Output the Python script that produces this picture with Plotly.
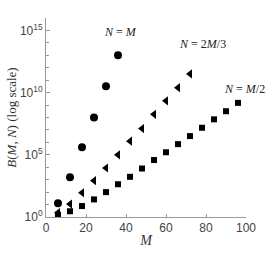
import plotly.graph_objects as go

# Data
m_eq = [6, 12, 18, 24, 30, 36]
b_eq = [1.26e1, 1.6e3, 4.0e5, 1.0e8, 3.2e10, 1.0e13]

m_23 = [6, 12, 18, 24, 30, 36, 42, 48, 54, 60, 66, 72]
b_23 = [2.2, 1.1e1, 8.9e1, 8.3e2, 8.7e3, 1.0e5, 1.26e6, 1.3e7, 1.8e8, 2.2e9, 2.5e10, 3.2e11]

m_12 = [6, 12, 18, 24, 30, 36, 42, 48, 54, 60, 66, 72, 78, 84, 90, 96]
b_12 = [1.5, 2.9, 7.6, 2.6e1, 1.0e2, 4.3e2, 1.7e3, 7.9e3, 3.8e4, 1.6e5, 7.2e5, 3.2e6,
        1.5e7, 7.1e7, 3.2e8, 1.5e9]

x_ticks = [0, 20, 40, 60, 80, 100]
y_minor_exps = list(range(0, 17))
y_label_exps = [0, 5, 10, 15]

serif = "Liberation Serif"
sans = "Liberation Sans"

fig = go.Figure()
fig.add_trace(go.Scatter(x=m_12, y=b_12, mode="markers", cliponaxis=False,
                         marker=dict(symbol="square", size=6, color="black")))
fig.add_trace(go.Scatter(x=m_23, y=b_23, mode="markers", cliponaxis=False,
                         marker=dict(symbol="triangle-left", size=8, color="black")))
fig.add_trace(go.Scatter(x=m_eq, y=b_eq, mode="markers", cliponaxis=False,
                         marker=dict(symbol="circle", size=8, color="black")))

tickvals = [10 ** k for k in y_label_exps]
ticktext = [f"10<sup>{k}</sup>" for k in y_label_exps]
minorvals = [10 ** k for k in y_minor_exps]

fig.update_layout(
    width=273, height=253,
    margin=dict(l=46, r=27, t=18, b=36),
    paper_bgcolor="white", plot_bgcolor="white",
    showlegend=False,
    font=dict(family=sans, size=12, color="#444"),
    xaxis=dict(range=[0, 100], tickvals=x_ticks, showgrid=False, zeroline=False,
               automargin=False,
               showline=True, linecolor="#999", linewidth=1,
               ticks="inside", ticklen=3, tickcolor="#999",
               tickfont=dict(family=sans, size=12, color="#444"),
               title=dict(text="<i>M</i>", font=dict(family=serif, size=14, color="#333"),
                          standoff=0)),
    yaxis=dict(type="log", range=[0, 16], tickvals=tickvals, ticktext=ticktext,
               showgrid=False, zeroline=False, automargin=False,
               showline=True, linecolor="#999", linewidth=1,
               ticks="inside", ticklen=4, tickcolor="#999",
               minor=dict(tickvals=minorvals, ticks="inside", ticklen=3,
                          tickcolor="#999", showgrid=False),
               tickfont=dict(family=sans, size=12, color="#444"),
               title=dict(text="<i>B</i>(<i>M</i>, <i>N</i>) (log scale)",
                          font=dict(family=serif, size=13, color="#333"), standoff=0)),
    annotations=[
        dict(x=37, y=14.9, xref="x", yref="y", text="<i>N</i> = <i>M</i>", showarrow=False,
             font=dict(family=serif, size=12, color="#222")),
        dict(x=78, y=13.95, xref="x", yref="y", text="<i>N</i> = 2<i>M</i>/3", showarrow=False,
             font=dict(family=serif, size=12, color="#222")),
        dict(x=99, y=10.3, xref="x", yref="y", text="<i>N</i> = <i>M</i>/2", showarrow=False,
             font=dict(family=serif, size=12, color="#222")),
    ],
)

fig.write_html("out.html", config={"displayModeBar": False},
               post_script="document.body.style.margin='0';")
